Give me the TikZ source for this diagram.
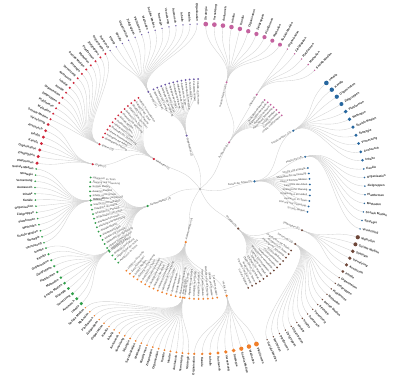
\documentclass[tikz,border=0pt]{standalone}
\usepackage{fontspec}
\setmainfont{Liberation Sans}
\definecolor{cPink}{HTML}{C4629F}
\definecolor{cPurple}{HTML}{6B58A6}
\definecolor{cRed}{HTML}{D0263A}
\definecolor{cGreen}{HTML}{2E9E48}
\definecolor{cOrange}{HTML}{F07F2A}
\definecolor{cBrown}{HTML}{6E4638}
\definecolor{cBlue}{HTML}{27679F}
\definecolor{linkc}{HTML}{D2D2D2}
\newif\ifLinks
\newcommand\wordA[1]{\ifcase#1 Soziale Medien\or Austausch\or Organisation\or Methoden\or Vernetzung\or Kanäle\or Plattformen\or Strategie\or Inhalte\or Zielgruppen\fi}
\newcommand\wordB[1]{\ifcase#1 Interne Kommunikation\or Organisation der Arbeit\or Soziale Medien\or Methoden der Vernetzung\or Strategische Planung\or Planung und Steuerung\or Inhalte und Formate\or Kategorie der Arbeit\or Austausch im Team\or Zusammenarbeit\fi}
\newcommand\nlab[4]{%
 \pgfmathtruncatemacro\rt{cos(#2)>-0.0001}%
 \pgfmathsetmacro\lr{(#3)-2.4}%
 \ifnum\rt=1 \node[ilab,rotate=#2,anchor=east] (#1-t) at (#2:\lr) {#4};%
 \else \node[ilab,rotate=#2+180,anchor=west] (#1-t) at (#2:\lr) {#4};\fi}
% #1 name #2 angle #3 r #4 colour #5 size #6 parent #7 parent angle #8 parent r #9 label
\newcommand\inode[9]{%
 \ifLinks
  \coordinate (#1) at (#2:#3);
  \draw[link] (#6) .. controls ({#7}:{((#8)+(#3))/2}) and ({#2}:{((#8)+(#3))/2}) .. (#1);
 \else
  \node[dot,fill=#4,minimum size=#5pt] (#1-d) at (#1) {};
  \nlab{#1}{#2}{#3}{#9}%
 \fi}
\newcommand\branch[8]{%
 \foreach \i in {1,...,#7}{%
  \pgfmathsetmacro\ang{(#5)+((#6)-(#5))*(\i-1)/max((#7)-1,1)}%
  \ifLinks
   \coordinate (#1-\i) at (\ang:#4);
   \draw[link] (#1) .. controls ({#2}:{((#3)+(#4))/2}) and (\ang:{((#3)+(#4))/2}) .. (#1-\i);
  \else
  \pgfmathsetmacro\dsz{\dsA+(\dsB-\dsA)*(\i-1)/max((#7)-1,1)}%
  \node[dot,fill=\gc,minimum size=\dsz pt] (#1-\i-d) at (#1-\i) {};%
  \pgfmathtruncatemacro\k{mod(\i*7+#7,10)}%
  \pgfmathtruncatemacro\rt{cos(\ang)>-0.0001}%
  \ifnum#8=1
   \pgfmathsetmacro\lr{(#4)+\dsz/2+1.2}%
   \ifnum\rt=1 \node[olab,rotate=\ang,anchor=west] (#1-\i-t) at (\ang:\lr) {\wordA{\k}};%
   \else \node[olab,rotate=\ang+180,anchor=east] (#1-\i-t) at (\ang:\lr) {\wordA{\k}};\fi
  \else
   \pgfmathsetmacro\lr{(#4)-\dsz/2-1.2}%
   \ifnum\rt=1 \node[ilab,rotate=\ang,anchor=east] (#1-\i-t) at (\ang:\lr) {\wordB{\k}};%
   \else \node[ilab,rotate=\ang+180,anchor=west] (#1-\i-t) at (\ang:\lr) {\wordB{\k}};\fi
  \fi
  \fi}}
\newcommand\thetree{%
% ---------- pink
\inode{pI}{58}{55}{cPink}{2.2}{root}{40}{0}{Austausch (3)}
\inode{pA}{76}{110}{cPink}{2.2}{pI}{58}{55}{Soziale Medien (10)}
\inode{pB}{59}{110}{cPink}{2.2}{pI}{58}{55}{Intern (5)}
\def\gc{cPink}\def\dsA{4.8}\def\dsB{4.0}
\branch{pA}{76}{110}{165}{88}{61}{10}{1}
\def\dsA{1.6}\def\dsB{1.6}
\branch{pB}{59}{110}{165}{58}{46}{5}{1}
\def\dsA{2}\def\dsB{2}
\branch{pI}{58}{55}{110}{54}{42}{7}{0}
% ---------- purple
\inode{uI}{104}{55}{cPurple}{2.2}{root}{84}{0}{Organisation (2)}
\inode{uS}{118}{110}{cPurple}{2.2}{uI}{104}{55}{Planung (14)}
\def\gc{cPurple}\def\dsA{1.5}\def\dsB{1.5}
\branch{uS}{118}{110}{165}{123}{91}{14}{1}
\def\dsA{2}\def\dsB{2}
\branch{uI}{104}{55}{110}{115}{91}{12}{0}
% ---------- red
\inode{rI}{147}{55}{cRed}{2.4}{root}{127}{0}{Methoden (3)}
\inode{rA}{156}{110}{cRed}{2.2}{rI}{147}{55}{Extern (15)}
\inode{rB}{167}{110}{cRed}{2.2}{rI}{147}{55}{Digital (7)}
\def\gc{cRed}\def\dsA{2.2}\def\dsB{2.2}
\branch{rA}{156}{110}{165}{125}{155}{15}{1}
\def\dsA{3}\def\dsB{3.4}
\branch{rB}{167}{110}{165}{157}{171}{7}{1}
\def\dsA{2}\def\dsB{2}
\branch{rI}{147}{55}{110}{124}{152}{13}{0}
% ---------- green
\inode{gI}{198}{55}{cGreen}{2.4}{root}{178}{0}{Kommunikation (3)}
\inode{gA}{186}{110}{cGreen}{2.2}{gI}{198}{55}{Arbeit (13)}
\inode{gB}{214}{110}{cGreen}{2.2}{gI}{198}{55}{Vernetzung (11)}
\def\gc{cGreen}\def\dsA{1.8}\def\dsB{1.8}
\branch{gA}{186}{110}{165}{173}{199}{13}{1}
\def\dsA{2}\def\dsB{3.4}
\branch{gB}{214}{110}{165}{201}{224}{11}{1}
\def\dsA{2}\def\dsB{2}
\branch{gI}{198}{55}{110}{174}{222}{21}{0}
% ---------- orange
\inode{oI}{-105}{55}{cOrange}{2.4}{root}{-125}{0}{Kommunikation (4)}
\inode{oA}{-76}{110}{cOrange}{2.4}{oI}{-105}{55}{Inhalte (9)}
\inode{oB}{-99}{110}{cOrange}{2.2}{oI}{-105}{55}{Formate (20)}
\def\gc{cOrange}\def\dsA{4.8}\def\dsB{2.4}
\branch{oA}{-76}{110}{165}{-70}{-92}{9}{1}
\def\dsA{2.2}\def\dsB{1.5}
\branch{oB}{-99}{110}{165}{-94}{-134}{20}{1}
\def\dsA{2}\def\dsB{2}
\branch{oI}{-105}{55}{110}{-81}{-132}{22}{0}
% ---------- brown
\inode{nI}{-46}{55}{cBrown}{2.4}{root}{-66}{0}{Strategie (3)}
\inode{nA}{-22}{110}{cBrown}{2.2}{nI}{-46}{55}{Zielgruppen (6)}
\inode{nB}{-30}{110}{cBrown}{2.2}{nI}{-46}{55}{Steuerung (15)}
\def\gc{cBrown}\def\dsA{4.2}\def\dsB{3.2}
\branch{nA}{-22}{110}{165}{-17}{-30}{6}{1}
\def\dsA{1.6}\def\dsB{1.5}
\branch{nB}{-30}{110}{165}{-32.5}{-66}{15}{1}
\def\dsA{2}\def\dsB{2}
\branch{nI}{-46}{55}{110}{-34}{-64}{14}{0}
% ---------- blue
\inode{bI}{8}{55}{cBlue}{2.4}{root}{-12}{0}{Kanäle der Arbeit (3)}
\inode{bA}{32}{110}{cBlue}{2.4}{bI}{8}{55}{Soziale Medien (11)}
\inode{bB}{17}{110}{cBlue}{2.2}{bI}{8}{55}{Plattformen (8)}
\def\gc{cBlue}\def\dsA{4.6}\def\dsB{2.8}
\branch{bA}{32}{110}{165}{40}{10}{11}{1}
\def\dsA{1.8}\def\dsB{1.6}
\branch{bB}{17}{110}{165}{7}{-14}{8}{1}
\def\dsA{2}\def\dsB{2}
\branch{bI}{8}{55}{110}{11}{-12}{9}{0}
}
\begin{document}
\begin{tikzpicture}[x=1pt,y=1pt,
  dot/.style={circle,inner sep=0pt,draw=none},
  link/.style={draw=linkc,line width=0.35pt},
  olab/.style={font=\fontsize{3}{3.4}\selectfont\bfseries,text=black!85,inner sep=0.3pt},
  ilab/.style={font=\fontsize{2.6}{3}\selectfont,text=black!70,inner sep=0.2pt}]
\useasboundingbox (0,0) rectangle (400,383);
\begin{scope}[shift={(200,194)}]
\coordinate (root) at (0:0);
\Linkstrue
\thetree
\Linksfalse
\thetree
\node[dot,fill=black!35,minimum size=2.4pt] (root-d) at (root) {};
\end{scope}
\end{tikzpicture}
\end{document}
